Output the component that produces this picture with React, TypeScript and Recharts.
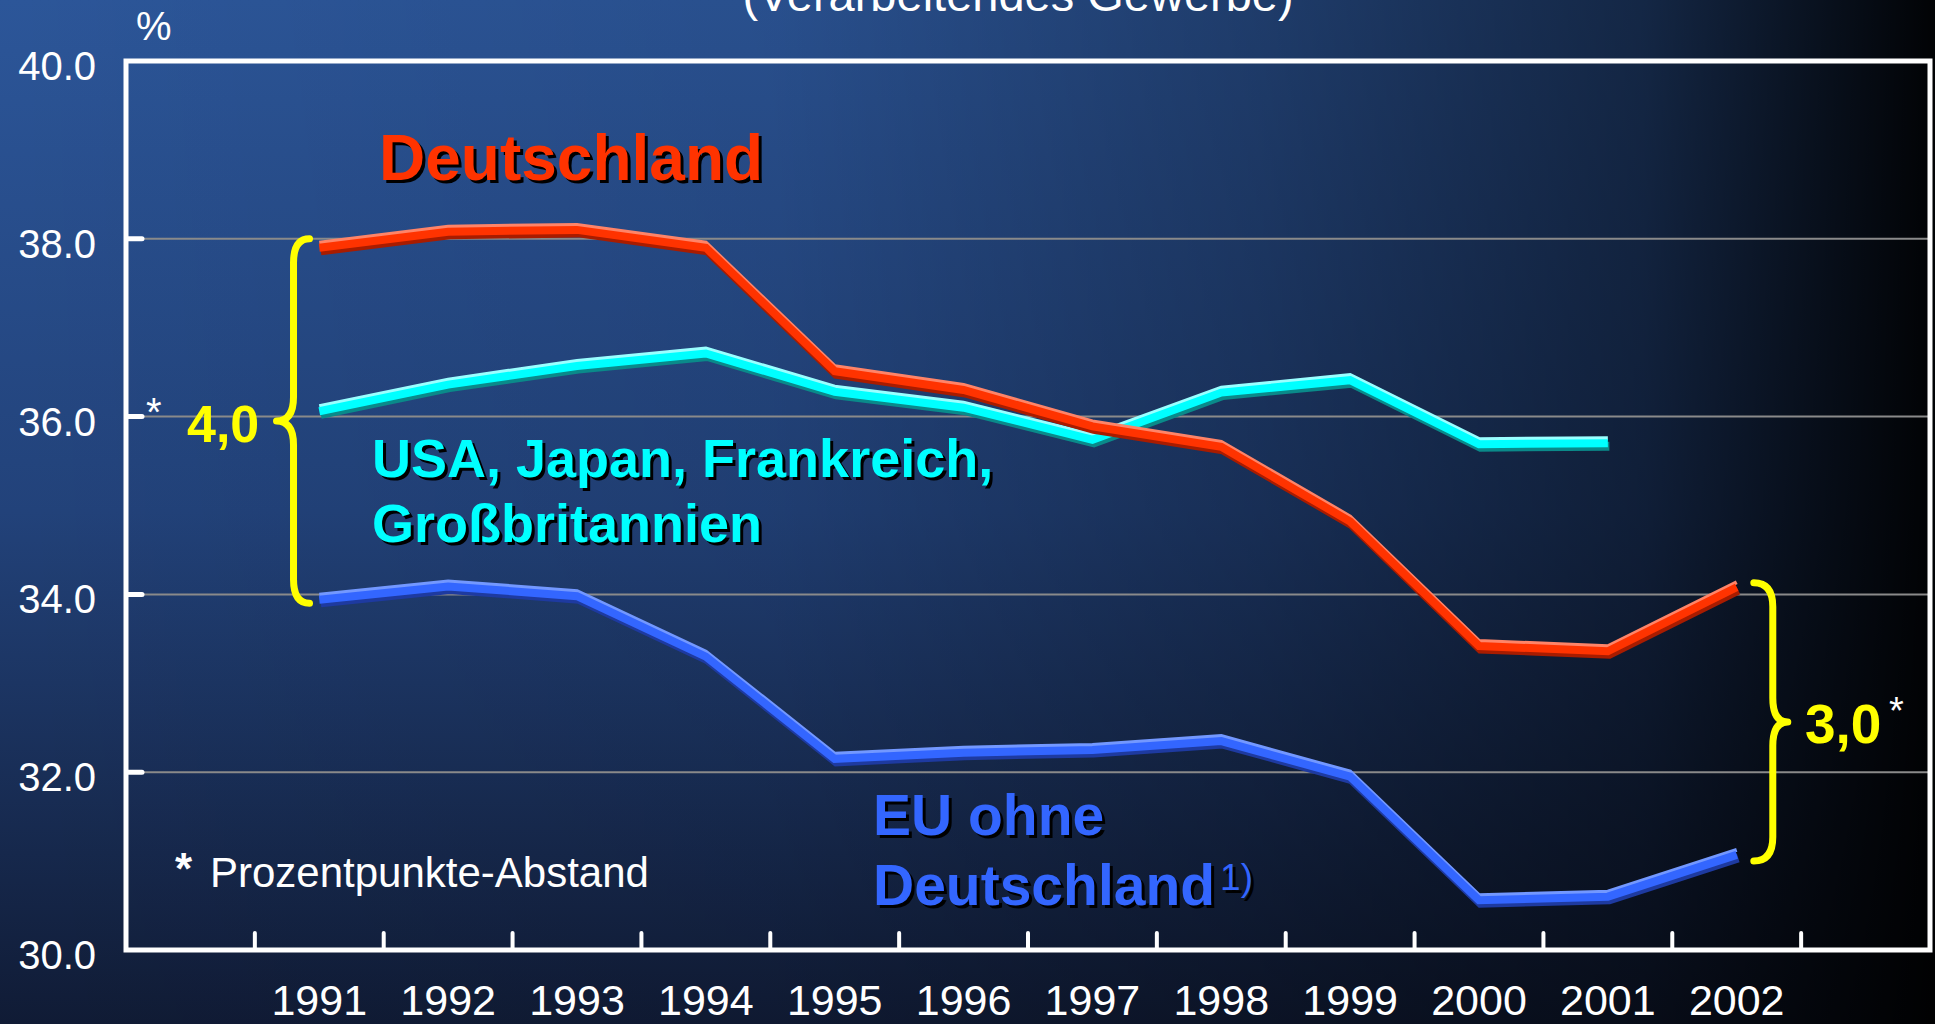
import React from "react"
import { LineChart, Line, XAxis, YAxis, CartesianGrid, ReferenceArea, ReferenceLine } from "recharts"

// values (% share, manufacturing)
const years = [1991, 1992, 1993, 1994, 1995, 1996, 1997, 1998, 1999, 2000, 2001, 2002]
const deutschland = [37.9, 38.08, 38.1, 37.9, 36.51, 36.3, 35.89, 35.66, 34.82, 33.42, 33.36, 34.08]
const usaJapanFrGb = [36.06, 36.36, 36.57, 36.71, 36.28, 36.1, 35.74, 36.27, 36.41, 35.69, 35.7, null]
const euOhneDeutschland = [33.94, 34.09, 33.98, 33.3, 32.15, 32.22, 32.25, 32.35, 31.95, 30.56, 30.6, 31.07]
const yTicks = [30, 32, 34, 36, 38, 40]

// brace annotations (gap in percentage points)
const leftBrace = { x: 1990.8, top: 38.0, bottom: 33.9, label: "4,0" }
const rightBrace = { x: 2002.28, top: 34.13, bottom: 31.0, label: "3,0" }

const FONT = '"Liberation Sans", Arial, Helvetica, sans-serif'

const rows = years.map((year, i) => ({
  year,
  de: deutschland[i],
  usa: usaJapanFrGb[i],
  eu: euOhneDeutschland[i],
}))

// labels sit on the years, tick marks on the boundaries between them
const xTicks = [...years, ...years.map((y) => y - 0.5), years[years.length - 1] + 0.5].sort((a, b) => a - b)

function XTick({ x, y, payload }: any) {
  const v = payload.value
  if (Number.isInteger(v)) {
    return (
      <text x={x} y={y + 65} textAnchor="middle" fill="#fff" fontSize={43} fontFamily={FONT}>
        {v}
      </text>
    )
  }
  return <line x1={x} y1={y - 2} x2={x} y2={y - 17} stroke="#fff" strokeWidth={4} strokeLinecap="round" />
}

function YTick({ x, y, payload }: any) {
  const v = payload.value
  return (
    <g>
      <text x={x - 30} y={y + 19} textAnchor="end" fill="#fff" fontSize={40} fontFamily={FONT}>
        {v.toFixed(1)}
      </text>
      {v > 30 && v < 40 && (
        <line x1={x + 2} y1={y} x2={x + 16} y2={y} stroke="#fff" strokeWidth={5} strokeLinecap="round" />
      )}
    </g>
  )
}

function bracePath(x: number, y1: number, y2: number, s: number, e: number, t: number) {
  const r = 24
  const ym = (y1 + y2) / 2
  return [
    `M ${x + s * e} ${y1}`,
    `Q ${x} ${y1} ${x} ${y1 + r}`,
    `L ${x} ${ym - r}`,
    `Q ${x} ${ym} ${x - s * t} ${ym}`,
    `Q ${x} ${ym} ${x} ${ym + r}`,
    `L ${x} ${y2 - r}`,
    `Q ${x} ${y2} ${x + s * e} ${y2}`,
  ].join(" ")
}

function ShadowText({ x, y, size, color, children, weight = "bold" }: any) {
  return (
    <g fontFamily={FONT} fontWeight={weight} fontSize={size}>
      <text x={x + 3} y={y + 3} fill="#000">
        {children}
      </text>
      <text x={x} y={y} fill={color}>
        {children}
      </text>
    </g>
  )
}

const series = [
  { key: "usa", main: "#00FFFF", dark: "#0A8A8A", light: "#9AFFFF" },
  { key: "eu", main: "#3366FF", dark: "#1E3AA0", light: "#7398FF" },
  { key: "de", main: "#FF3300", dark: "#A81C00", light: "#FF8468" },
]

export default function App() {
  return (
    <div
      style={{
        position: "absolute",
        left: 0,
        top: 0,
        width: 1935,
        height: 1024,
        overflow: "hidden",
        background:
          "linear-gradient(to right, rgba(0,0,0,0) 0%, rgba(0,0,0,0.08) 40%, rgba(0,0,0,0.3) 65%, rgba(0,0,0,0.55) 85%, rgba(0,0,0,0.97) 100%), linear-gradient(to bottom, #2C5699 0%, #22427A 50%, #101B35 100%)",
      }}
    >
      <style>{`
        .ln-sh { transform: translate(1.5px, 3px); }
        .ln-hi { transform: translate(0px, -5px); }
      `}</style>
      <LineChart width={1935} height={1024} data={rows} margin={{ top: 61, right: 5, bottom: 0, left: 0 }}>
        <CartesianGrid horizontal vertical={false} stroke="#8a8a8a" strokeWidth={2} />
        <XAxis
          dataKey="year"
          type="number"
          domain={[1989.5, 2003.5]}
          ticks={xTicks}
          interval={0}
          height={74}
          axisLine={false}
          tickLine={false}
          tickSize={0}
          tickMargin={0}
          tick={<XTick />}
        />
        <YAxis
          type="number"
          domain={[30, 40]}
          ticks={yTicks}
          width={126}
          axisLine={false}
          tickLine={false}
          tickSize={0}
          tickMargin={0}
          tick={<YTick />}
        />
        <ReferenceArea
          x1={1989.5}
          x2={2003.5}
          y1={30}
          y2={40}
          fill="none"
          fillOpacity={0}
          stroke="#fff"
          strokeWidth={5}
          ifOverflow="visible"
        />
        {series.map((s) => [
          <Line
            key={s.key + "-sh"}
            className="ln-sh"
            type="linear"
            dataKey={s.key}
            stroke={s.dark}
            strokeWidth={9}
            dot={false}
            activeDot={false}
            isAnimationActive={false}
          />,
          <Line
            key={s.key + "-hi"}
            className="ln-hi"
            type="linear"
            dataKey={s.key}
            stroke={s.light}
            strokeWidth={4}
            dot={false}
            activeDot={false}
            isAnimationActive={false}
          />,
          <Line
            key={s.key + "-main"}
            type="linear"
            dataKey={s.key}
            stroke={s.main}
            strokeWidth={8}
            dot={false}
            activeDot={false}
            isAnimationActive={false}
          />,
        ])}
        <ReferenceLine
          segment={[
            { x: leftBrace.x, y: leftBrace.top },
            { x: leftBrace.x, y: leftBrace.bottom },
          ]}
          shape={(p: any) => (
            <path
              d={bracePath(p.x1, p.y1, p.y2, 1, 16, 17)}
              fill="none"
              stroke="#FFFF00"
              strokeWidth={7}
              strokeLinecap="round"
              strokeLinejoin="round"
            />
          )}
        />
        <ReferenceLine
          segment={[
            { x: rightBrace.x, y: rightBrace.top },
            { x: rightBrace.x, y: rightBrace.bottom },
          ]}
          shape={(p: any) => (
            <path
              d={bracePath(p.x1, p.y1, p.y2, -1, 19, 15)}
              fill="none"
              stroke="#FFFF00"
              strokeWidth={7}
              strokeLinecap="round"
              strokeLinejoin="round"
            />
          )}
        />
      </LineChart>
      <svg width={1935} height={1024} style={{ position: "absolute", left: 0, top: 0, pointerEvents: "none" }}>
        <text x={1018} y={11} textAnchor="middle" fill="#fff" fontSize={47} fontFamily={FONT}>
          (Verarbeitendes Gewerbe)
        </text>
        <text x={136} y={40} fill="#fff" fontSize={40} fontFamily={FONT}>
          %
        </text>
        <ShadowText x={379} y={180} size={64} color="#FF3300">
          Deutschland
        </ShadowText>
        <ShadowText x={372} y={477} size={54} color="#00FFFF">
          USA, Japan, Frankreich,
        </ShadowText>
        <ShadowText x={372} y={542} size={54} color="#00FFFF">
          Großbritannien
        </ShadowText>
        <ShadowText x={873} y={835} size={57} color="#3366FF">
          EU ohne
        </ShadowText>
        <g fontFamily={FONT} fontSize={57} fontWeight="bold">
          <text x={876} y={908} fill="#000">
            Deutschland
            <tspan dx={5} dy={-15} fontSize={37} fontWeight="normal">
              1)
            </tspan>
          </text>
          <text x={873} y={905} fill="#3366FF">
            Deutschland
            <tspan dx={5} dy={-15} fontSize={37} fontWeight="normal">
              1)
            </tspan>
          </text>
        </g>
        <text x={187} y={442} fill="#FFFF00" fontSize={52} fontWeight="bold" fontFamily={FONT}>
          {leftBrace.label}
        </text>
        <text x={146} y={426} fill="#fff" fontSize={40} fontFamily={FONT}>
          *
        </text>
        <text x={1805} y={743} fill="#FFFF00" fontSize={55} fontWeight="bold" fontFamily={FONT}>
          {rightBrace.label}
        </text>
        <text x={1889} y={724} fill="#fff" fontSize={38} fontFamily={FONT}>
          *
        </text>
        <text x={175} y={884} fill="#fff" fontSize={44} fontWeight="bold" fontFamily={FONT}>
          *
        </text>
        <text x={210} y={887} fill="#fff" fontSize={42} fontFamily={FONT}>
          Prozentpunkte-Abstand
        </text>
      </svg>
    </div>
  )
}
